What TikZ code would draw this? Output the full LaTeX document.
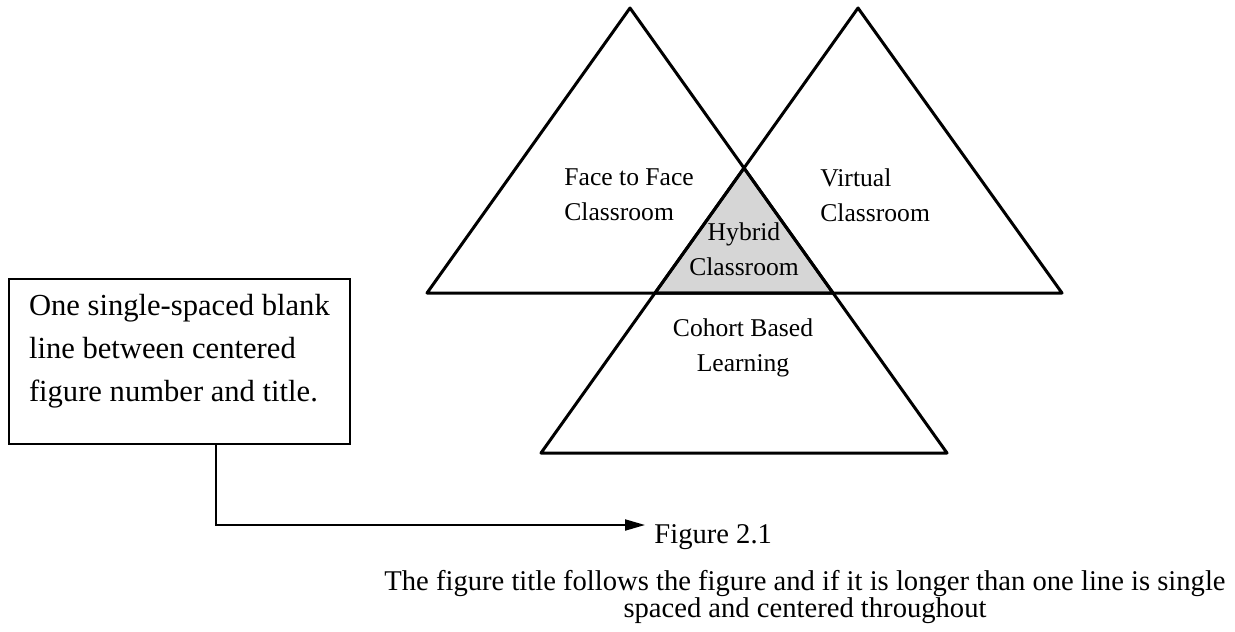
\documentclass[tikz,border=0pt]{standalone}
\usepackage{fontspec}
\setmainfont{Liberation Serif}
\usetikzlibrary{arrows.meta}
\tikzset{
  tri/.style={line width=1.5pt, line join=round},
  hybridfill/.style={fill=black!16},
  lbl/.style={font=\fontsize{12.8}{17.5}\selectfont, inner sep=0pt},
  notebox/.style={draw, line width=1pt, align=left, inner xsep=10pt, inner ysep=7.5pt,
    text depth=14pt, font=\fontsize{15.3}{21.5}\selectfont},
  pointer/.style={line width=1pt, -{Triangle[length=10pt,width=5.5pt]}},
  caption/.style={font=\fontsize{14.3}{13.5}\selectfont, inner sep=0pt}
}
\begin{document}
\begin{tikzpicture}[x=0.5pt, y=-0.5pt]
	%%%%% START %%%%%
	\useasboundingbox (0,0) rectangle (1235,631);

	% the shaded overlap first, then the three triangles
	\fill[hybridfill] (744,168) -- (655,293) -- (833,293) -- cycle;
	\draw[tri] (630,8) -- (427,293) -- (833,293) -- cycle;
	\draw[tri] (858,8) -- (655,293) -- (1062,293) -- cycle;
	\draw[tri] (744,168) -- (541,453) -- (947,453) -- cycle;

	\node[lbl, align=left, anchor=west] (face) at (564,195) {Face to Face\\Classroom};
	\node[lbl, align=left, anchor=west] (virtual) at (820,195) {Virtual\\Classroom};
	\node[lbl, align=center] (hybrid) at (744,249) {Hybrid\\Classroom};
	\node[lbl, align=center] (cohort) at (743,348) {Cohort Based\\Learning};

	% note box with its pointer
	\node[notebox, anchor=north west] (note) at (8,278) {One single-spaced blank\\line between centered\\figure number and title.};
	\coordinate (bend) at (216,525);
	\coordinate (tip) at (645,525);
	\draw[pointer] (note.south -| bend) -- (bend) -- (tip);

	\node[caption, anchor=west] (fignum) at (654,537) {Figure 2.1};
	\node[caption, align=center] (title) at (805,597) {The figure title follows the figure and if it is longer than one line is single\\spaced and centered throughout};
	%%%%% END %%%%%
\end{tikzpicture}
\end{document}
